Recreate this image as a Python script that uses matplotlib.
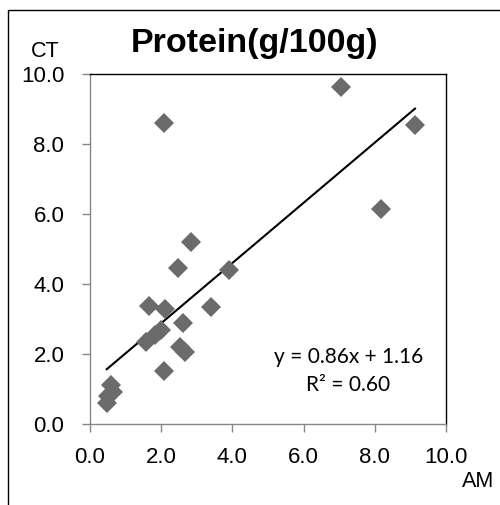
import matplotlib
matplotlib.use("Agg")
import matplotlib.pyplot as plt
import numpy as np
from matplotlib.patches import Rectangle

# Data (AM vs CT protein)
am = [0.47, 0.50, 0.66, 0.58, 1.58, 1.67, 1.83, 2.00, 2.09, 2.11, 2.08,
      2.47, 2.54, 2.60, 2.68, 2.85, 3.40, 3.90, 7.04, 8.18, 9.13]
ct = [0.59, 0.80, 0.92, 1.12, 2.33, 3.37, 2.55, 2.70, 1.51, 3.30, 8.61,
      4.45, 2.21, 2.90, 2.07, 5.19, 3.35, 4.40, 9.62, 6.14, 8.54]
slope = 0.86
intercept = 1.16
r2 = 0.60
ticks = [0, 2, 4, 6, 8, 10]
tick_labels = ["0.0", "2.0", "4.0", "6.0", "8.0", "10.0"]
title = "Protein(g/100g)"
xlabel = "AM"
ylabel = "CT"

plt.rcParams['font.family'] = ['Liberation Sans', 'DejaVu Sans']

W, H = 500, 505
fig = plt.figure(figsize=(W / 100, H / 100), dpi=100)
ax = fig.add_axes([90 / W, 1 - 424 / H, 356 / W, 350 / H])

ax.plot(am, ct, linestyle='none', marker='D', markersize=10.5,
        color='#6b6b6b', markeredgewidth=0, zorder=3)
xs = np.array([min(am), max(am)])
ax.plot(xs, slope * xs + intercept, color='black', linewidth=1.5, zorder=2)

ax.set_xlim(0, 10)
ax.set_ylim(0, 10)
ax.set_xticks(ticks)
ax.set_xticklabels(tick_labels)
ax.set_yticks(ticks)
ax.set_yticklabels(tick_labels)
ax.tick_params(axis='both', direction='out', length=5.5, width=1,
               color='#868686', labelsize=16)
ax.tick_params(axis='x', pad=11)
ax.tick_params(axis='y', pad=13)

for s in ['left', 'bottom']:
    ax.spines[s].set_color('#868686')
    ax.spines[s].set_linewidth(1)
for s in ['top', 'right']:
    ax.spines[s].set_color('black')
    ax.spines[s].set_linewidth(1)

def fy(py):
    return 1 - py / H

fig.text(255 / W, fy(52), title, ha='center', va='baseline',
         fontsize=24.5, fontweight='bold')
fig.text(45.5 / W, fy(57), ylabel, ha='center', va='baseline', fontsize=15.5)
fig.text(478 / W, fy(487), xlabel, ha='center', va='baseline', fontsize=15.5)

eq_font = ['Lato', 'DejaVu Sans']
fig.text(349 / W, fy(363), f"y = {slope:.2f}x + {intercept:.2f}",
         ha='center', va='baseline', fontsize=15, family=eq_font)
fig.text(348 / W, fy(391), f"R² = {r2:.2f}",
         ha='center', va='baseline', fontsize=15, family=eq_font)

border = Rectangle((0, 0), 1, 1, transform=fig.transFigure,
                   fill=False, edgecolor='black', linewidth=1, clip_on=False)
border.set_bounds(8 / W, -0.5, 2.0, 0.5 + 1 - 10 / H)
fig.patches.append(border)

fig.savefig("out.png", dpi=100)
